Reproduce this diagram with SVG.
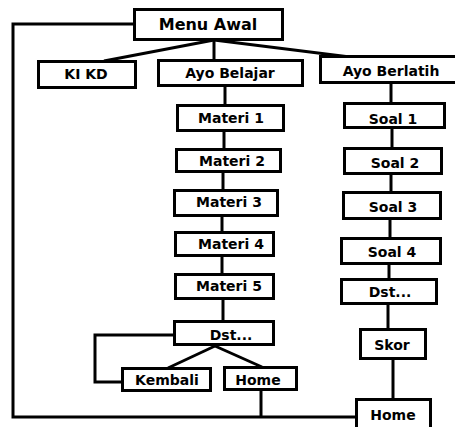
<svg xmlns="http://www.w3.org/2000/svg" width="455" height="427" viewBox="0 0 455 427">
<style>
.box{fill:#fff;stroke:#000;stroke-width:3}
.t{font-family:"Comic Sans MS","DejaVu Sans",sans-serif;font-weight:bold;font-size:14px;fill:#000;text-anchor:middle}
.big{font-size:16px}
.c{fill:none;stroke:#000;stroke-width:3}
</style>
<rect width="455" height="427" fill="#fff"/>
<g id="connectors">
<polyline class="c" points="134,24 13,24 13,417 356,417"/>
<line class="c" x1="261" y1="390" x2="261" y2="417"/>
<line class="c" x1="214" y1="40" x2="104" y2="61"/>
<line class="c" x1="214" y1="40" x2="214" y2="60"/>
<line class="c" x1="214" y1="40" x2="350" y2="57"/>
<line class="c" x1="225" y1="86" x2="225" y2="105"/>
<line class="c" x1="224" y1="131" x2="224" y2="149"/>
<line class="c" x1="223" y1="172" x2="223" y2="190"/>
<line class="c" x1="222" y1="216" x2="222" y2="232"/>
<line class="c" x1="222" y1="256" x2="222" y2="274"/>
<line class="c" x1="223" y1="299" x2="223" y2="321"/>
<polyline class="c" points="174,335 95,335 95,382 122,382"/>
<line class="c" x1="215" y1="346" x2="168" y2="368"/>
<line class="c" x1="215" y1="346" x2="262" y2="367"/>
<line class="c" x1="391" y1="83" x2="391" y2="103"/>
<line class="c" x1="392" y1="128" x2="392" y2="148"/>
<line class="c" x1="391" y1="174" x2="391" y2="192"/>
<line class="c" x1="390" y1="219" x2="390" y2="238"/>
<line class="c" x1="389" y1="264" x2="389" y2="279"/>
<line class="c" x1="388" y1="304" x2="388" y2="329"/>
<line class="c" x1="393" y1="359" x2="393" y2="399"/>
</g>
<g id="menu-awal"><rect class="box" x="134.5" y="9.5" width="148" height="30"/><text class="t big" x="208" y="30">Menu Awal</text></g>
<g id="ki-kd"><rect class="box" x="38.5" y="61.5" width="97" height="26"/><text class="t" x="86" y="79">KI KD</text></g>
<g id="ayo-belajar"><rect class="box" x="158.5" y="60.5" width="144" height="25"/><text class="t" x="230" y="78">Ayo Belajar</text></g>
<g id="ayo-berlatih"><rect class="box" x="320.5" y="56.5" width="140" height="26"/><text class="t" x="391" y="76">Ayo Berlatih</text></g>
<g id="materi-1"><rect class="box" x="177.5" y="105.5" width="106" height="25"/><text class="t" x="231" y="123">Materi 1</text></g>
<g id="materi-2"><rect class="box" x="176.5" y="149.5" width="104" height="22"/><text class="t" x="232" y="166">Materi 2</text></g>
<g id="materi-3"><rect class="box" x="174.5" y="190.5" width="103" height="25"/><text class="t" x="229" y="207">Materi 3</text></g>
<g id="materi-4"><rect class="box" x="175.5" y="232.5" width="98" height="23"/><text class="t" x="231" y="249">Materi 4</text></g>
<g id="materi-5"><rect class="box" x="175.5" y="274.5" width="98" height="24"/><text class="t" x="229" y="291">Materi 5</text></g>
<g id="dst-belajar"><rect class="box" x="174.5" y="321.5" width="99" height="23"/><text class="t" x="231" y="340">Dst...</text></g>
<g id="kembali"><rect class="box" x="122.5" y="368.5" width="88" height="22"/><text class="t" x="167" y="385">Kembali</text></g>
<g id="home-belajar"><rect class="box" x="224.5" y="367.5" width="72" height="22"/><text class="t" x="258" y="385">Home</text></g>
<g id="soal-1"><rect class="box" x="344.5" y="103.5" width="100" height="24"/><text class="t" x="393" y="124">Soal 1</text></g>
<g id="soal-2"><rect class="box" x="344.5" y="148.5" width="97" height="25"/><text class="t" x="395" y="168">Soal 2</text></g>
<g id="soal-3"><rect class="box" x="343.5" y="192.5" width="97" height="26"/><text class="t" x="393" y="212">Soal 3</text></g>
<g id="soal-4"><rect class="box" x="341.5" y="238.5" width="99" height="25"/><text class="t" x="392" y="257">Soal 4</text></g>
<g id="dst-berlatih"><rect class="box" x="341.5" y="279.5" width="95" height="24"/><text class="t" x="390" y="297">Dst...</text></g>
<g id="skor"><rect class="box" x="360.5" y="329.5" width="65" height="29"/><text class="t" x="392" y="350">Skor</text></g>
<g id="home-berlatih"><rect class="box" x="356.5" y="399.5" width="74" height="30"/><text class="t" x="393" y="420">Home</text></g>
</svg>
